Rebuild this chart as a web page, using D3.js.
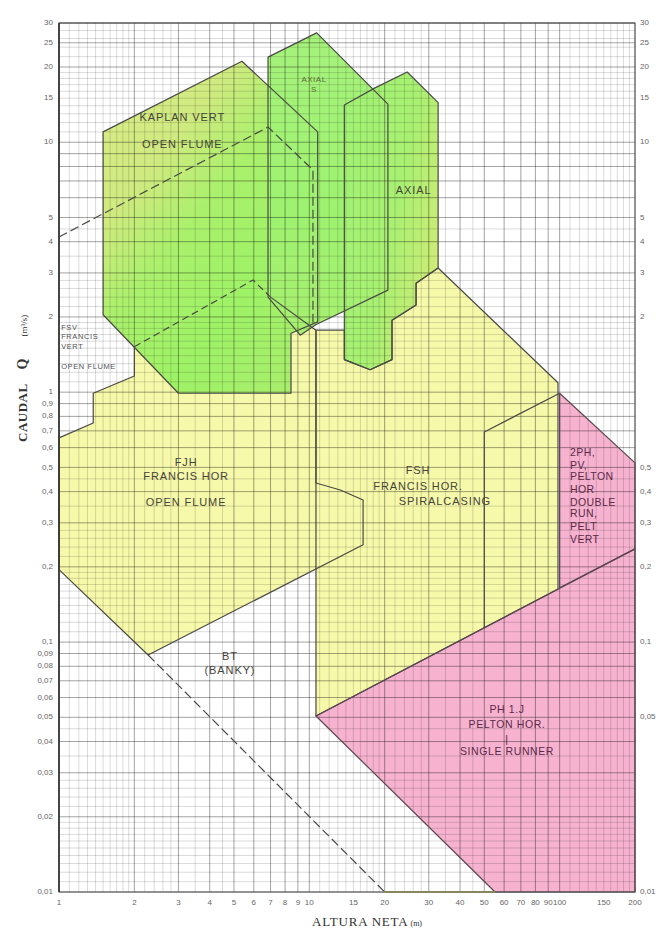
<!DOCTYPE html>
<html><head><meta charset="utf-8">
<script src="https://cdn.jsdelivr.net/npm/d3@7"></script>
<style>body{margin:0;background:#fff}svg{display:block}</style>
</head><body><svg id="c" width="657" height="929"></svg>
<script>
// ---------- data (Altura neta h [m], Caudal Q [m3/s]) ----------
const xTickLabels=[1,2,3,4,5,6,7,8,9,10,15,20,30,40,50,60,70,80,90,100,150,200];
const yTickLeft=[30,25,20,15,10,5,4,3,2,1,0.9,0.8,0.7,0.6,0.5,0.4,0.3,0.2,0.1,0.09,0.08,0.07,0.06,0.05,0.04,0.03,0.02,0.01];
const yTickRight=[30,25,20,15,10,5,4,3,2,0.5,0.4,0.3,0.2,0.1,0.05,0.01];
const gridMult=[1,1.1,1.2,1.3,1.4,1.5,1.6,1.7,1.8,1.9,2,2.2,2.4,2.6,2.8,3,3.5,4,4.5,5,6,7,8,9];
const gridDecades=[0.01,0.1,1,10,100];

const kaplan=[[1.5,11.0],[5.38,21.1],[10.8,11.0],[10.8,1.91],[8.45,1.72],[8.45,0.99],[3.0,0.99],[1.5,2.04]];
const axialS=[[6.84,21.9],[10.7,27.4],[20.6,14.2],[20.6,2.56],[10.6,1.86],[9.2,1.69],[6.84,2.40]];
const axial=[[13.8,14.1],[18.3,16.5],[24.6,19.1],[32.7,14.4],[32.7,3.14],[26.7,2.73],[26.7,2.23],[21.4,1.94],[21.4,1.35],[17.5,1.23],[13.8,1.35]];
const fjh=[[1,0.195],[1,0.656],[1.37,0.753],[1.37,0.99],[2.0,1.16],[2.0,1.52],[5.96,2.81],[7.0,2.40],[10.63,1.77],[10.63,0.433],[13.3,0.406],[16.4,0.370],[16.4,0.245],[2.27,0.0888]];
const fsh=[[10.63,1.77],[13.8,1.77],[13.8,1.35],[17.5,1.23],[21.4,1.35],[21.4,1.94],[26.7,2.23],[26.7,2.73],[32.7,3.14],[98.5,1.09],[98.5,0.163],[10.63,0.0506]];
const ph1=[[10.63,0.0506],[200,0.236],[200,0.01],[55.2,0.01]];
const ph2=[[100,0.99],[200,0.521],[200,0.236],[100,0.165]];
const kaplanDash=[[1,4.18],[6.84,11.5],[10.34,7.75],[10.34,1.86]];
const btDash=[[2.27,0.0888],[20,0.01]];
const btBottom=[[20,0.01],[55.2,0.01]];
const fshInner=[[50,0.114],[50,0.693],[100,0.99]];

const centerLabels=[
 ["KAPLAN VERT",3.11,12.5],["OPEN FLUME",3.11,9.75],
 ["AXIAL",26.1,6.4],
 ["FJH",3.22,0.521],["FRANCIS HOR",3.22,0.458],["OPEN FLUME",3.22,0.36],
 ["FSH",27.2,0.484],["FRANCIS HOR.",27.2,0.4175],["SPIRALCASING",34.8,0.3636],
 ["BT",4.82,0.0872],["(BANKY)",4.82,0.0766]
];
const axialSLabels=[["AXIAL",10.44,17.75],["S",10.44,16.2]];
const fsvLabels=[["FSV",1.02,1.807],["FRANCIS",1.02,1.663],["VERT",1.02,1.517],["OPEN FLUME",1.02,1.261]];
const ph2Labels=[["2PH,",110,0.571],["PV,",110,0.507],["PELTON",110,0.458],["HOR",110,0.406],["DOUBLE",110,0.36],["RUN,",110,0.3256],["PELT",110,0.2888],["VERT",110,0.2563]];
const ph1Labels=[["PH 1.J",61.6,0.0535],["PELTON HOR.",61.6,0.0466],["|",61.6,0.0406],["SINGLE RUNNER",61.6,0.0363]];

// ---------- drawing ----------
const x=d3.scaleLog().domain([1,200]).range([59,635]);
const y=d3.scaleLog().domain([0.01,30]).range([892,23]);
const svg=d3.select("#c");
const defs=svg.append("defs");
function grad(id,x2,y2,stops){
  const g=defs.append("linearGradient").attr("id",id).attr("x1",0).attr("y1",0).attr("x2",x2).attr("y2",y2);
  stops.forEach(s=>g.append("stop").attr("offset",s[0]).attr("stop-color",s[1]));
}
grad("gKap",0.8,1,[[0,"#dcec8a"],[0.3,"#d0ea80"],[0.5,"#aaf06c"],[0.75,"#9ef266"],[1,"#a8ee6c"]]);
grad("gAxS",0,1,[[0,"#a6f27c"],[0.6,"#9ef270"],[1,"#a8ef70"]]);
grad("gAx",1,0.6,[[0,"#a0f274"],[0.6,"#a8f072"],[1,"#ccec76"]]);

const line=d3.line().x(d=>x(d[0])).y(d=>y(d[1]));
const fills=svg.append("g");
function fillPoly(pts,f){fills.append("path").attr("d",line(pts)+"Z").attr("fill",f);}
fillPoly(fjh,"#f6f8aa");
fillPoly(fsh,"#f6f8aa");
fillPoly(ph1,"#f6b2cf");
fillPoly(ph2,"#f6b2cf");
fillPoly(kaplan,"url(#gKap)");
fillPoly(axialS,"url(#gAxS)");
fillPoly(axial,"url(#gAx)");

// grid
const grid=svg.append("g");
const gv=[];
gridDecades.forEach(d=>gridMult.forEach(m=>gv.push({v:+(m*d).toPrecision(3),major:Number.isInteger(m)})));
gv.filter(o=>o.v>=1&&o.v<=200).forEach(o=>{
  grid.append("line").attr("x1",x(o.v)).attr("x2",x(o.v)).attr("y1",y(30)).attr("y2",y(0.01))
   .attr("stroke","#000").attr("stroke-opacity",o.major?0.46:0.27).attr("stroke-width",o.major?0.8:0.55);
});
gv.filter(o=>o.v>=0.01&&o.v<=30).forEach(o=>{
  grid.append("line").attr("y1",y(o.v)).attr("y2",y(o.v)).attr("x1",x(1)).attr("x2",x(200))
   .attr("stroke","#000").attr("stroke-opacity",o.major?0.46:0.27).attr("stroke-width",o.major?0.8:0.55);
});
[25,30].forEach(v=>grid.append("line").attr("y1",y(v)).attr("y2",y(v)).attr("x1",x(1)).attr("x2",x(200))
   .attr("stroke","#000").attr("stroke-opacity",0.45).attr("stroke-width",0.8));

// outlines
const out=svg.append("g").attr("fill","none").attr("stroke-linejoin","round");
function stroke(pts,closed,dash,col,w){
  const p=out.append("path").attr("d",line(pts)+(closed?"Z":"")).attr("stroke",col||"#4a4a44").attr("stroke-width",w||1.2);
  if(dash)p.attr("stroke-dasharray",dash);
}
stroke(fsh,true);
stroke(ph1,true,null,"#5a4650");
stroke(ph2,true,null,"#5a4650");
stroke(fjh.slice(7).concat(fjh.slice(0,6)),false);
stroke(fjh.slice(5,8),false,"7,4");
stroke(kaplan,true);
stroke(axialS,true);
stroke(axial,true);
stroke(kaplanDash,false,"9,4");
stroke(btDash,false,"9,4");
stroke(fshInner,false);
stroke(btBottom,false,null,"#b8b86a",2);

// frame
svg.append("rect").attr("x",x(1)).attr("y",y(30)).attr("width",x(200)-x(1)).attr("height",y(0.01)-y(30))
  .attr("fill","none").attr("stroke","#555").attr("stroke-width",1);
svg.append("line").attr("x1",x(1)).attr("x2",x(1)).attr("y1",y(30)).attr("y2",y(0.01)).attr("stroke","#333").attr("stroke-width",1.6);

// region labels
const lab=svg.append("g").attr("font-family","'Liberation Sans',Arial,sans-serif");
function labels(arr,anchor,size,col,ls){
  arr.forEach(a=>lab.append("text").text(a[0]).attr("x",x(a[1])).attr("y",y(a[2]))
    .attr("text-anchor",anchor).attr("dominant-baseline","middle").attr("font-size",size)
    .attr("fill",col).attr("letter-spacing",ls));
}
labels(centerLabels,"middle",11,"#45453a",0.9);
labels(axialSLabels,"middle",8,"#5b6a3a",0.5);
labels(fsvLabels,"start",7.5,"#555",0.6);
labels(ph2Labels,"start",10.5,"#5a2a48",0.4);
labels(ph1Labels,"middle",10.5,"#5a2a48",0.6);

// ticks
const fmt=d=>String(d).replace(".",",");
const tk=svg.append("g").attr("font-family","'Liberation Sans',Arial,sans-serif").attr("font-size",8).attr("fill","#666");
yTickLeft.forEach(v=>tk.append("text").text(fmt(v)).attr("x",53).attr("y",y(v)).attr("text-anchor","end").attr("dominant-baseline","middle"));
yTickRight.forEach(v=>tk.append("text").text(fmt(v)).attr("x",640).attr("y",y(v)).attr("text-anchor","start").attr("dominant-baseline","middle"));
xTickLabels.forEach(v=>tk.append("text").text(fmt(v)).attr("x",x(v)).attr("y",905).attr("text-anchor","middle"));

// axis titles
const yt=svg.append("text").attr("transform","translate(27,442) rotate(-90)")
  .attr("font-family","'Liberation Serif','Times New Roman',serif").attr("fill","#333");
yt.append("tspan").text("CAUDAL").attr("font-size",13).attr("font-weight","bold").attr("letter-spacing",0.5);
yt.append("tspan").text("Q").attr("font-size",14).attr("font-weight","bold").attr("dx",14);
yt.append("tspan").text("(m³/s)").attr("font-size",9).attr("dx",22);
const xt=svg.append("text").attr("x",312).attr("y",926)
  .attr("font-family","'Liberation Serif','Times New Roman',serif").attr("fill","#333");
xt.append("tspan").text("ALTURA NETA").attr("font-size",13).attr("letter-spacing",0.8);
xt.append("tspan").text(" (m)").attr("font-size",8);
</script></body></html>
